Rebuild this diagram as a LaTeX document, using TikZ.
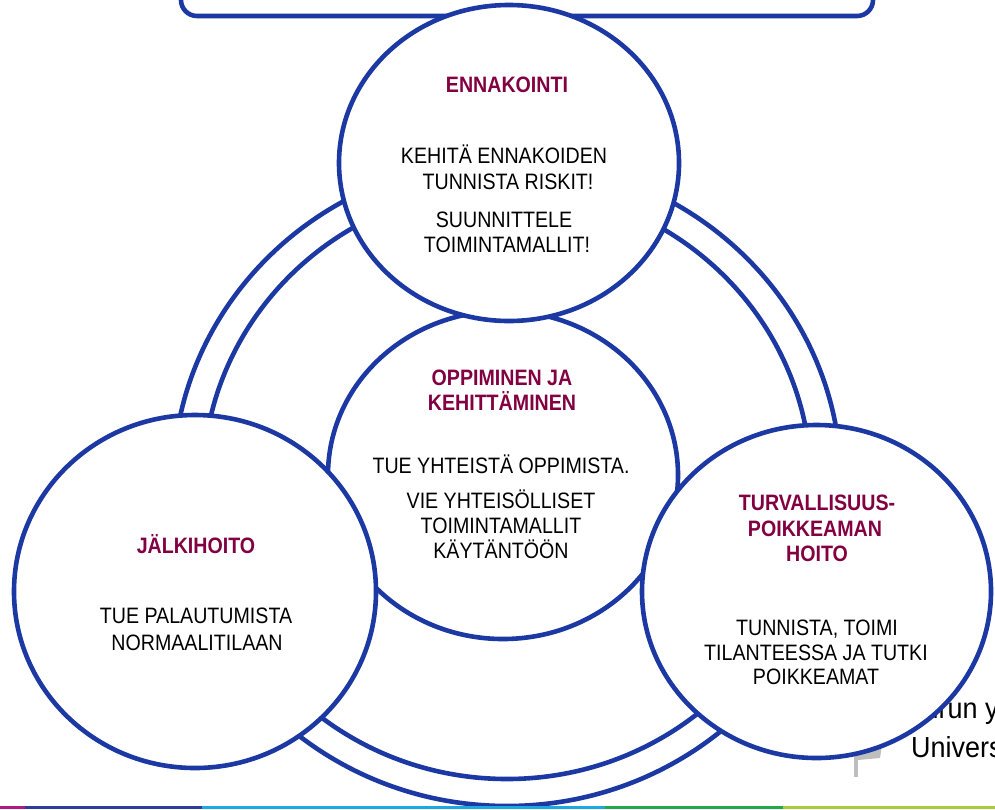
\documentclass[tikz,border=0pt]{standalone}
\usepackage{fontspec}
\setmainfont[FakeStretch=0.88]{Liberation Sans}
\newfontfamily\logofont[FakeStretch=0.93]{Liberation Sans}
\usetikzlibrary{shapes.geometric}
\definecolor{ringblue}{RGB}{28,57,163}
\definecolor{titlered}{RGB}{130,0,65}
\definecolor{barmagenta}{RGB}{176,25,126}
\definecolor{barblue}{RGB}{46,61,152}
\definecolor{barcyan}{RGB}{27,169,225}
\definecolor{bargreen}{RGB}{33,168,74}
\definecolor{barlime}{RGB}{166,206,57}
\definecolor{logogray}{RGB}{190,190,190}
\tikzset{
  blueline/.style={draw=ringblue, line width=4.6pt},
  bubble/.style={blueline, ellipse, fill=white, inner sep=0pt},
  titletext/.style={anchor=base, inner sep=0pt, text=titlered, font=\fontsize{22.3}{25}\selectfont\bfseries},
  bodytext/.style={anchor=base, inner sep=0pt, text=black, font=\fontsize{22.3}{25}\selectfont},
  logotext/.style={anchor=base west, inner sep=0pt, text=black, font=\logofont\fontsize{29}{31}\selectfont},
}
\begin{document}
\begin{tikzpicture}[x=1pt,y=-1pt]
\useasboundingbox (0,0) rectangle (995,809);
\clip (0,0) rectangle (995,809);
\fill[white] (0,0) rectangle (995,809);

% top box (cut off)
\draw[blueline, rounded corners=16pt] (181,-40) rectangle (873,16);

% logo behind right bubble
\node[logotext] (logo1) at (908,718) {Turun yliopisto};
\node[logotext] (logo2) at (911,757) {University of Turku};
\fill[logogray] (854,755) rectangle (858,777);
\fill[logogray] (856,745) -- (882,745) -- (880,758) -- (858,760) -- cycle;

% ring
\draw[blueline] (507,483) ellipse [x radius=334, y radius=323];
\draw[blueline] (507,483) ellipse [x radius=304, y radius=296];

% bubbles
\node[bubble, minimum width=350pt, minimum height=328pt] (center) at (503,475) {};
\node[bubble, minimum width=340pt, minimum height=316pt] (top) at (509,163) {};
\node[bubble, minimum width=362pt, minimum height=353pt] (left) at (195,591.5) {};
\node[bubble, minimum width=349pt, minimum height=333pt] (right) at (816.5,591.5) {};

% top bubble text
\node[titletext] (t1) at (507,92) {ENNAKOINTI};
\node[bodytext] (t2) at (504,163) {KEHITÄ ENNAKOIDEN};
\node[bodytext] (t3) at (508,189) {TUNNISTA RISKIT!};
\node[bodytext] (t4) at (504,227) {SUUNNITTELE};
\node[bodytext] (t5) at (507,252) {TOIMINTAMALLIT!};

% center bubble text
\node[titletext] (c1) at (502,385) {OPPIMINEN JA};
\node[titletext] (c2) at (502,410) {KEHITTÄMINEN};
\node[bodytext] (c3) at (501,473) {TUE YHTEISTÄ OPPIMISTA.};
\node[bodytext] (c4) at (501,508) {VIE YHTEISÖLLISET};
\node[bodytext] (c5) at (501,533) {TOIMINTAMALLIT};
\node[bodytext] (c6) at (501,558) {KÄYTÄNTÖÖN};

% left bubble text
\node[titletext] (l1) at (196,553) {JÄLKIHOITO};
\node[bodytext] (l2) at (196,623) {TUE PALAUTUMISTA};
\node[bodytext] (l3) at (197,650) {NORMAALITILAAN};

% right bubble text
\node[titletext] (r1) at (817,510) {TURVALLISUUS-};
\node[titletext] (r2) at (815,536) {POIKKEAMAN};
\node[titletext] (r3) at (817,561) {HOITO};
\node[bodytext] (r4) at (817,635) {TUNNISTA, TOIMI};
\node[bodytext] (r5) at (816,660) {TILANTEESSA JA TUTKI};
\node[bodytext] (r6) at (816,684) {POIKKEAMAT};

% bottom colour bar
\fill[barmagenta] (0,806) rectangle (25,809);
\fill[barblue] (25,806) rectangle (202,809);
\fill[barcyan] (202,806) rectangle (605,809);
\fill[bargreen] (605,806) rectangle (783,809);
\fill[barlime] (783,806) rectangle (995,809);
\end{tikzpicture}
\end{document}
